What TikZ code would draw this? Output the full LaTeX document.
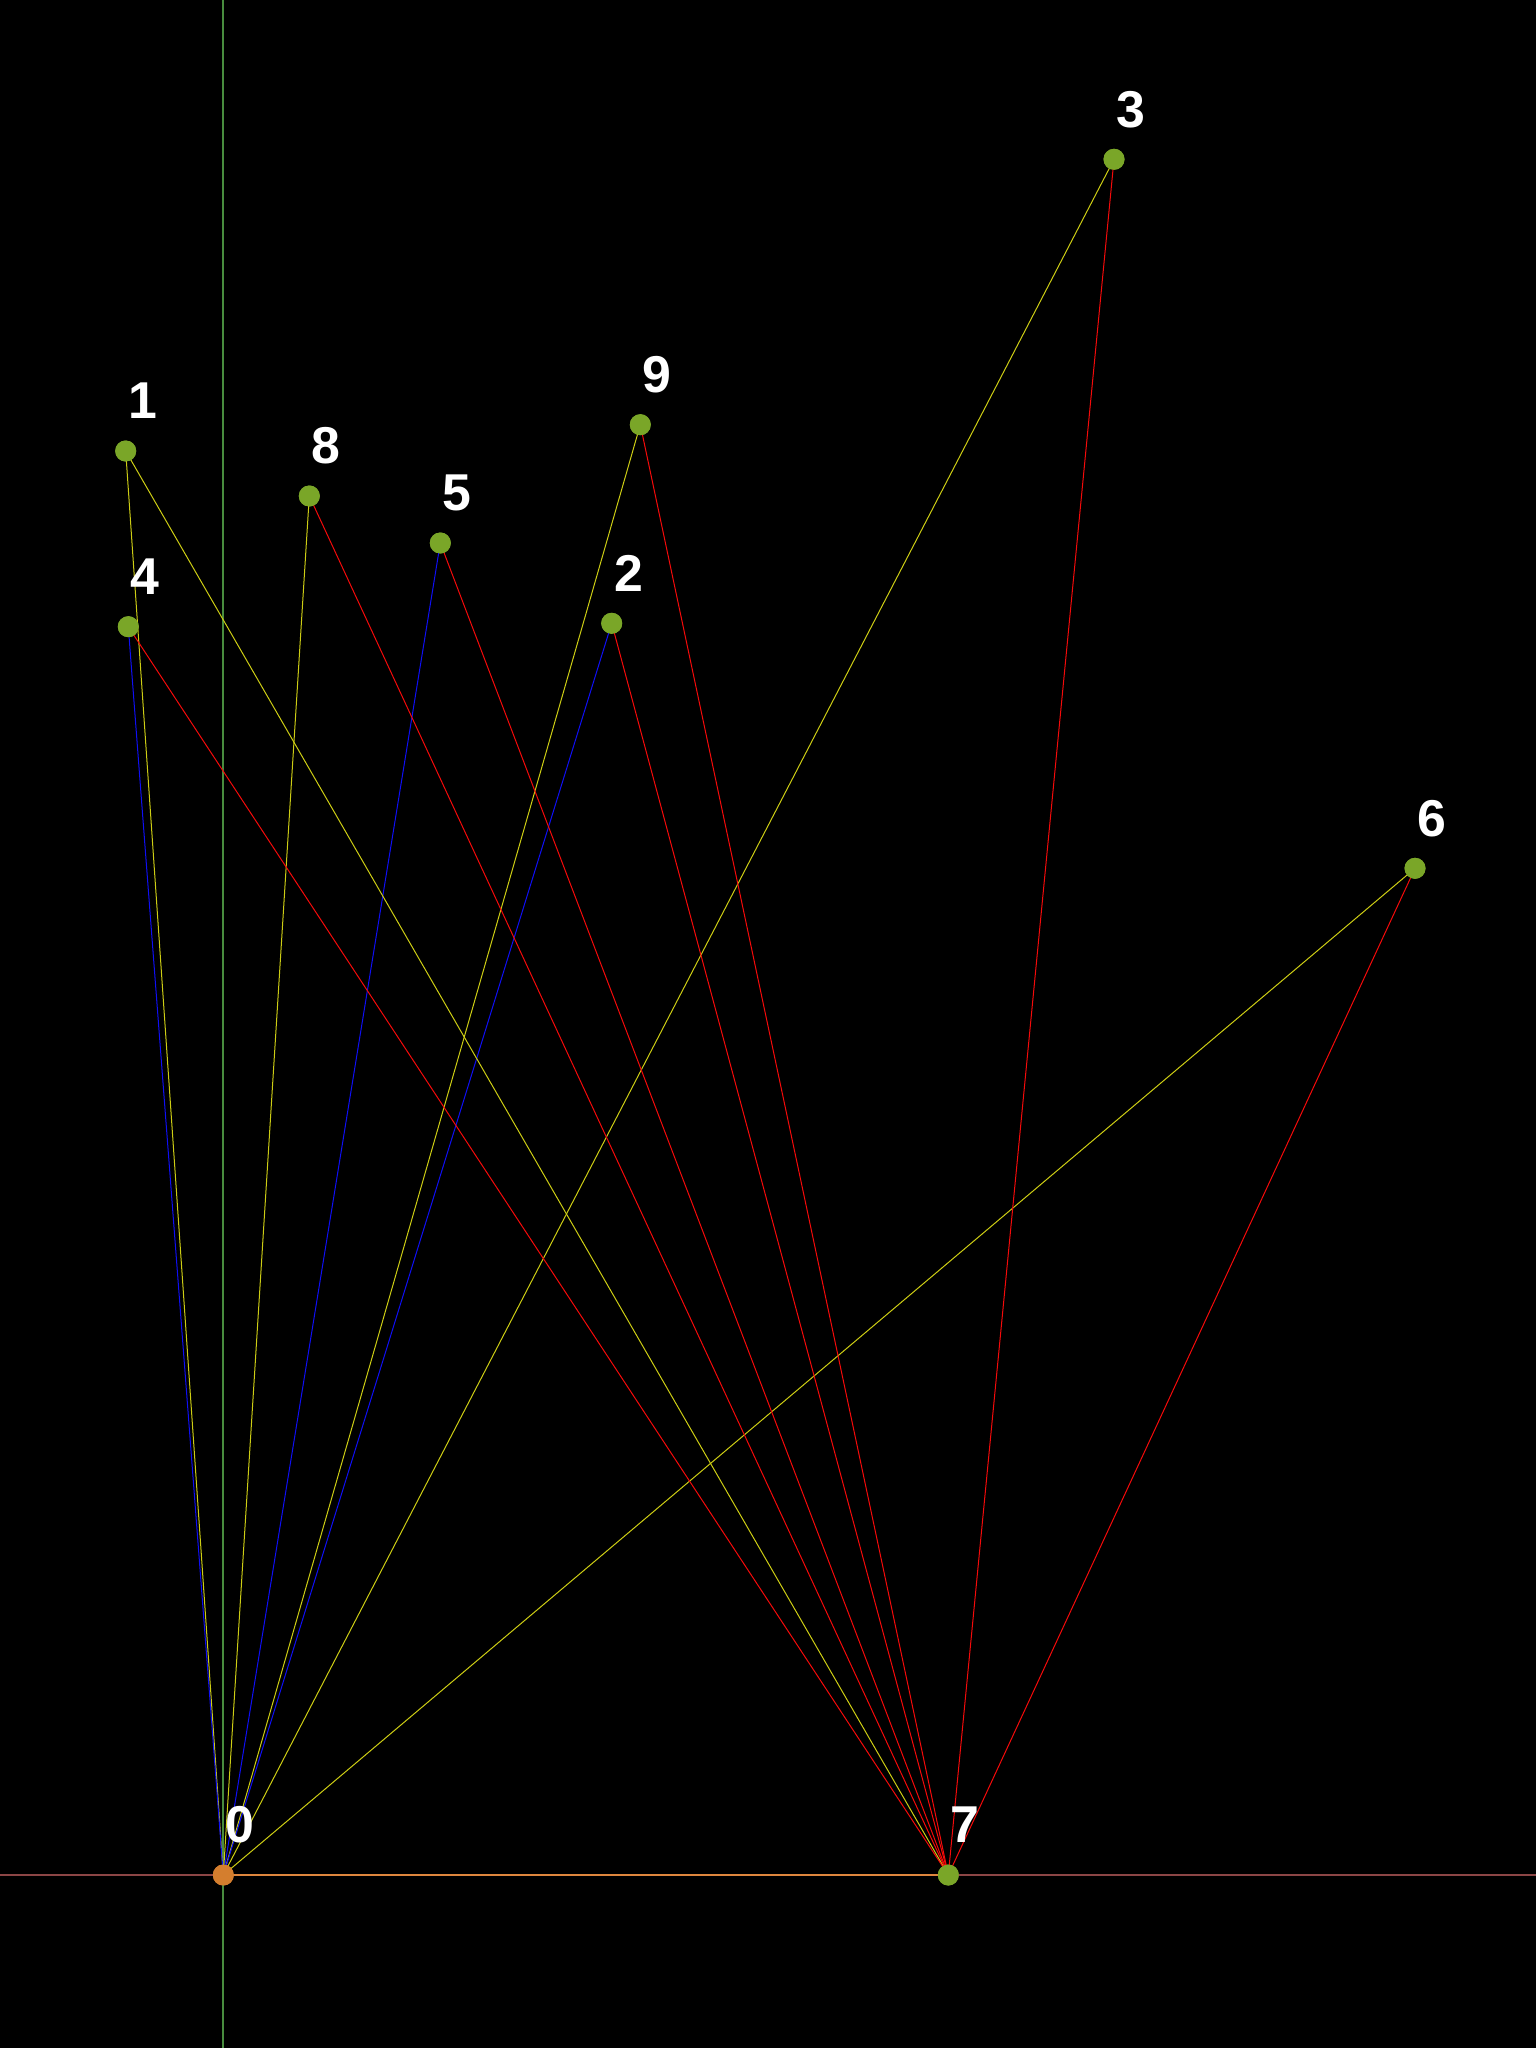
\documentclass[tikz,border=0pt]{standalone}
\usepackage{fontspec}
\setmainfont{Liberation Sans}
\usepackage{tikz}
\usetikzlibrary{calc}

\definecolor{dotgreen}{RGB}{122,166,40}
\definecolor{dotorange}{RGB}{212,126,46}
\definecolor{axisgreen}{RGB}{72,140,62}
\definecolor{axisred}{RGB}{140,70,70}
\definecolor{baseorange}{RGB}{222,134,62}
\definecolor{edgeyellow}{RGB}{205,205,20}
\definecolor{edgered}{RGB}{245,10,10}
\definecolor{edgeblue}{RGB}{15,15,245}

\begin{document}
\begin{tikzpicture}[
    x=0.5bp, y=-0.5bp,
    pt/.style={circle, fill=dotgreen, inner sep=0pt, minimum size=10.5bp},
    origin/.style={pt, fill=dotorange},
    lbl/.style={text=white, font=\fontsize{26}{26}\selectfont\bfseries, inner sep=0pt},
    axis/.style={line width=1bp},
    yedge/.style={edgeyellow, line width=0.5bp},
    redge/.style={edgered, line width=0.5bp},
    bedge/.style={edgeblue, line width=0.5bp}
]

% background
\useasboundingbox (0,0) rectangle (1536,2048);
\fill[black] (0,0) rectangle (1536,2048);

% points
\node[origin] (n0) at (223.3,1875) {};
\node[pt] (n7) at (948.3,1875) {};
\node[pt] (n1) at (125.7,451) {};
\node[pt] (n2) at (611.7,623.3) {};
\node[pt] (n3) at (1114,159.3) {};
\node[pt] (n4) at (128.3,626.7) {};
\node[pt] (n5) at (440.3,543) {};
\node[pt] (n6) at (1415,868.3) {};
\node[pt] (n8) at (309.3,496) {};
\node[pt] (n9) at (640.3,424.7) {};

% axes
\coordinate (xl) at (0,1875);
\coordinate (xr) at (1536,1875);
\coordinate (yt) at (223.3,0);
\coordinate (yb) at (223.3,2048);
\draw[axis, axisred] (xl) -- (xr);
\draw[axis, axisgreen] (yt) -- (yb);
\draw[axis, baseorange] (n0.center) -- (n7.center);

% edges to 0
\draw[yedge] (n1.center) -- (n0.center);
\draw[bedge] (n4.center) -- (n0.center);
\draw[yedge] (n8.center) -- (n0.center);
\draw[bedge] (n5.center) -- (n0.center);
\draw[yedge] (n9.center) -- (n0.center);
\draw[bedge] (n2.center) -- (n0.center);
\draw[yedge] (n3.center) -- (n0.center);
\draw[yedge] (n6.center) -- (n0.center);

% edges to 7
\draw[yedge] (n1.center) -- (n7.center);
\draw[redge] (n4.center) -- (n7.center);
\draw[redge] (n8.center) -- (n7.center);
\draw[redge] (n5.center) -- (n7.center);
\draw[redge] (n9.center) -- (n7.center);
\draw[redge] (n2.center) -- (n7.center);
\draw[redge] (n3.center) -- (n7.center);
\draw[redge] (n6.center) -- (n7.center);

% dots on top
\foreach \n in {n1,n2,n3,n4,n5,n6,n7,n8,n9}
    \fill[dotgreen] (\n) circle (5.25bp);
\fill[dotorange] (n0) circle (5.25bp);

% labels
\foreach \n/\t in {n0/0,n1/1,n2/2,n3/3,n4/4,n5/5,n6/6,n7/7,n8/8,n9/9}
    \node[lbl] (l\t) at ($(\n)+(17,-50)$) {\t};

\end{tikzpicture}
\end{document}
